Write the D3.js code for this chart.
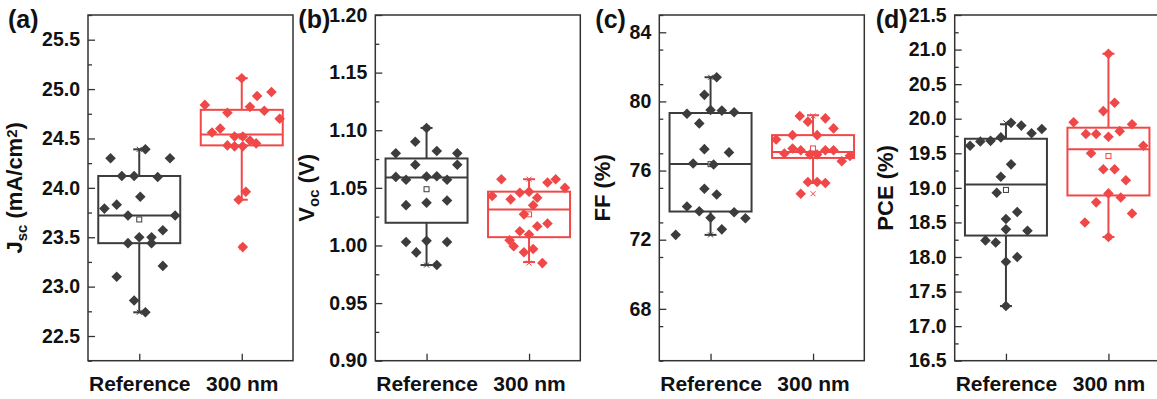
<!DOCTYPE html>
<html>
<head>
<meta charset="utf-8">
<script src="https://cdn.jsdelivr.net/npm/d3@7"></script>
<style>
  body { margin: 0; background: #fff; }
  svg text { font-family: "Liberation Sans", Arial, sans-serif; font-weight: bold; fill: #111; }
</style>
</head>
<body>
<svg id="fig" width="1157" height="399"></svg>
<script>
// categories and colours
var groups = ["Reference", "300 nm"];
var colors = ["#3c3c3c", "#f04848"];

// (a) Jsc (mA/cm2)
var jscRef   = [24.30, 24.39, 24.30, 24.12, 24.12, 24.11, 23.91, 23.79, 23.83, 23.72, 23.72, 23.50, 23.50, 23.44, 23.44, 23.57, 23.21, 23.10, 22.86, 22.74];
var jscRefDx = [-0.28, 0.06, 0.30, -0.17, -0.05, 0.18, 0.01, -0.34, -0.22, -0.11, 0.35, 0, 0.12, -0.11, 0.12, 0.23, 0.23, -0.22, -0.05, 0.06];
var jscNm    = [25.11, 24.97, 24.93, 24.84, 24.82, 24.76, 24.78, 24.70, 24.60, 24.56, 24.52, 24.52, 24.48, 24.45, 24.43, 24.42, 24.42, 23.96, 23.88, 23.40];
var jscNmDx  = [0, 0.29, 0.15, -0.36, 0.08, -0.14, 0.22, 0.37, -0.21, -0.29, -0.07, 0.01, 0.08, 0.14, -0.14, -0.07, 0.01, 0.04, -0.03, 0.01];
var jscBox   = [{q1: 23.44, med: 23.72, q3: 24.12, lo: 22.74, hi: 24.39, mean: 23.68},
                {q1: 24.43, med: 24.54, q3: 24.79, lo: 23.88, hi: 25.11, mean: 24.52}];

// (b) Voc (V)
var vocRef   = [1.102, 1.090, 1.080, 1.082, 1.080, 1.070, 1.070, 1.0595, 1.057, 1.0598, 1.060, 1.057, 1.035, 1.037, 1.039, 1.003, 1.004, 1.003, 0.994, 0.983];
var vocRefDx = [0, -0.11, -0.30, 0.10, 0.30, -0.11, 0.30, -0.30, -0.20, 0, 0.10, 0.20, -0.20, 0, 0.20, -0.20, 0, 0.20, -0.10, 0.10];
var vocNm    = [1.0575, 1.0546, 1.0575, 1.050, 1.0429, 1.040, 1.0458, 1.0467, 1.0414, 1.0348, 1.027, 1.0167, 1.019, 1.0124, 1.0095, 1.0045, 0.9993, 0.9941, 0.997, 0.9847];
var vocNmDx  = [-0.27, 0.18, 0.26, 0.35, -0.36, -0.18, -0.09, 0, 0.08, 0.04, -0.05, 0.08, 0.18, -0.09, 0, -0.19, -0.15, -0.05, 0.04, 0.13];
var vocBox   = [{q1: 1.0197, med: 1.0589, q3: 1.0755, lo: 0.983, hi: 1.102, mean: 1.0488},
                {q1: 1.0072, med: 1.0313, q3: 1.0467, lo: 0.9856, hi: 1.0575, mean: 1.027}];

// (c) FF (%)
var ffRef   = [81.4, 80.38, 79.29, 79.5, 79.47, 79.37, 78.73, 77.24, 77.05, 76.41, 76.35, 74.95, 74.62, 73.92, 73.65, 73.27, 73.59, 73.24, 72.6, 72.28];
var ffRefDx = [0.06, -0.06, -0.23, 0, 0.11, 0.23, -0.11, -0.06, 0.18, -0.17, 0.03, -0.06, 0.06, -0.23, -0.11, 0, 0.23, 0.34, 0.11, -0.34];
var ffNm    = [79.16, 78.83, 79.02, 78.44, 77.80, 78.05, 78.05, 76.99, 77.28, 77.18, 76.93, 76.93, 77.18, 77.18, 76.54, 76.85, 75.34, 75.34, 75.28, 74.66];
var ffNmDx  = [-0.13, -0.05, 0.12, 0.20, -0.36, -0.20, 0.04, -0.28, -0.20, -0.12, -0.03, 0.04, 0.12, 0.20, 0.28, 0.36, -0.05, 0.04, 0.12, -0.12];
var ffBox   = [{q1: 73.63, med: 76.38, q3: 79.33, lo: 72.28, hi: 81.4, mean: 76.37},
               {q1: 76.73, med: 77.08, q3: 78.05, lo: 75.28, hi: 79.2, mean: 77.28}];

// (d) PCE (%)
var pceRef   = [19.94, 19.90, 19.79, 19.85, 19.61, 19.67, 19.68, 19.73, 19.34, 19.16, 18.93, 18.55, 18.65, 18.40, 18.38, 18.24, 18.21, 17.93, 18.00, 17.29];
var pceRefDx = [0.05, 0.15, 0.25, 0.35, -0.35, -0.25, -0.15, -0.05, 0.05, -0.05, -0.09, 0, 0.11, 0, 0.21, -0.20, -0.10, 0, 0.11, 0];
var pceNm    = [20.94, 20.23, 20.11, 19.95, 19.92, 19.78, 19.78, 19.74, 19.82, 19.61, 19.50, 19.27, 19.27, 19.11, 18.92, 18.86, 18.79, 18.63, 18.50, 18.29];
var pceNmDx  = [0, 0.06, -0.05, -0.34, 0.23, -0.22, -0.12, 0, 0.11, 0.34, -0.17, -0.05, 0.06, 0.17, 0, 0.12, -0.12, 0.23, -0.23, 0];
var pceBox   = [{q1: 18.31, med: 19.05, q3: 19.71, lo: 17.29, hi: 19.92, mean: 18.97},
                {q1: 18.89, med: 19.56, q3: 19.87, lo: 18.29, hi: 20.94, mean: 19.46}];

// axis ticks
var jscTicks = [22.5, 23.0, 23.5, 24.0, 24.5, 25.0, 25.5];
var vocTicks = [0.90, 0.95, 1.00, 1.05, 1.10, 1.15, 1.20];
var ffTicks  = [68, 72, 76, 80, 84];
var pceTicks = [16.5, 17.0, 17.5, 18.0, 18.5, 19.0, 19.5, 20.0, 20.5, 21.0, 21.5];

var W = 205, H = 345.7, TOP = 15;
var svg = d3.select('#fig');

// square rotated 45 degrees, like Origin's diamond
var diamond = {
    draw: function(ctx, size) {
        var r = Math.sqrt(size / 2);
        ctx.moveTo(0, -r); ctx.lineTo(r, 0); ctx.lineTo(0, r); ctx.lineTo(-r, 0); ctx.closePath();
    }
};

var panels = [
    {tag: '(a)', left: 88,    tagDx: -80, titleDx: -66, domain: [22.25, 25.75], ticks: jscTicks, step: 0.25, fmt: '.1f',
     series: [[jscRef, jscRefDx], [jscNm, jscNmDx]], box: jscBox,
     title: [['J', 0], ['sc', 1], [' (mA/cm', 0], ['2', -1], [')', 0]]},
    {tag: '(b)', left: 375.3, tagDx: -77, titleDx: -61, domain: [0.90, 1.20], ticks: vocTicks, step: 0.025, fmt: '.2f',
     series: [[vocRef, vocRefDx], [vocNm, vocNmDx]], box: vocBox,
     title: [['V', 0], ['oc', 1], [' (V)', 0]]},
    {tag: '(c)', left: 659.3, tagDx: -64, titleDx: -49, domain: [65, 85], ticks: ffTicks, step: 2, fmt: 'd',
     series: [[ffRef, ffRefDx], [ffNm, ffNmDx]], box: ffBox,
     title: [['FF (%)', 0]]},
    {tag: '(d)', left: 954.7, tagDx: -79, titleDx: -62, domain: [16.5, 21.5], ticks: pceTicks, step: 0.25, fmt: '.1f',
     series: [[pceRef, pceRefDx], [pceNm, pceNmDx]], box: pceBox,
     title: [['PCE (%)', 0]]}
];

panels.forEach(function(p) {
    var g = svg.append('g').attr('transform', 'translate(' + p.left + ',' + TOP + ')');
    var x = d3.scaleLinear().domain([0.5, 2.5]).range([0, W]);
    var y = d3.scaleLinear().domain(p.domain).range([H, 0]);

    // minor ticks
    var minor = d3.range(p.domain[0], p.domain[1] + 1e-9, p.step)
        .filter(function(v) { return !p.ticks.some(function(t) { return Math.abs(t - v) < 1e-6; }); });
    g.append('g').attr('class', 'minor')
        .call(d3.axisLeft(y).tickValues(minor).tickSizeInner(-4).tickSizeOuter(0).tickFormat(''));

    g.append('g').attr('class', 'yaxis')
        .call(d3.axisLeft(y).tickValues(p.ticks).tickSizeInner(-7).tickSizeOuter(0).tickPadding(8)
            .tickFormat(d3.format(p.fmt)))
        .selectAll('text').style('font-size', '19.5px');

    g.append('g').attr('class', 'xaxis')
        .attr('transform', 'translate(0,' + H + ')')
        .call(d3.axisBottom(x).tickValues([1, 2]).tickSizeInner(-7).tickSizeOuter(0).tickPadding(15)
            .tickFormat(function(d) { return groups[d - 1]; }))
        .selectAll('text').style('font-size', '21px');

    g.selectAll('.domain').remove();
    g.selectAll('.tick line').attr('stroke', '#333').attr('stroke-width', 1.3);

    // frame
    g.append('rect').attr('width', W).attr('height', H)
        .attr('fill', 'none').attr('stroke', '#333').attr('stroke-width', 1.5);

    // boxes
    p.box.forEach(function(b, i) {
        var cx = x(i + 1), half = (x(1.4) - x(1)) , c = colors[i];
        var bg = g.append('g').attr('stroke', c).attr('fill', 'none').attr('stroke-width', 2);
        // whiskers
        bg.append('line').attr('x1', cx).attr('x2', cx).attr('y1', y(b.q3)).attr('y2', y(b.hi));
        bg.append('line').attr('x1', cx).attr('x2', cx).attr('y1', y(b.q1)).attr('y2', y(b.lo));
        [b.hi, b.lo].forEach(function(v) {
            bg.append('line').attr('x1', cx - 6).attr('x2', cx + 6).attr('y1', y(v)).attr('y2', y(v));
        });
        bg.append('rect').attr('x', cx - half).attr('width', 2 * half)
            .attr('y', y(b.q3)).attr('height', y(b.q1) - y(b.q3));
        bg.append('line').attr('x1', cx - half).attr('x2', cx + half).attr('y1', y(b.med)).attr('y2', y(b.med));
        // mean marker
        bg.append('rect').attr('x', cx - 2.5).attr('y', y(b.mean) - 2.5).attr('width', 5).attr('height', 5)
            .attr('fill', '#fff').attr('stroke-width', 1);
        // min / max crosses
        var s = p.series[i][0];
        [d3.min(s), d3.max(s)].forEach(function(v) {
            g.append('path').attr('d', 'M-2.5,-2.5L2.5,2.5M-2.5,2.5L2.5,-2.5')
                .attr('transform', 'translate(' + cx + ',' + y(v) + ')')
                .attr('stroke', c).attr('stroke-width', 1).attr('fill', 'none');
        });
    });

    // data points
    p.series.forEach(function(s, i) {
        g.append('g').selectAll('path').data(s[0]).enter().append('path')
            .attr('d', d3.symbol().type(diamond).size(56))
            .attr('transform', function(v, j) { return 'translate(' + x(i + 1 + s[1][j]) + ',' + y(v) + ')'; })
            .attr('fill', colors[i]);
    });

    // panel tag
    g.append('text').attr('x', p.tagDx).attr('y', 13).style('font-size', '25px').text(p.tag);

    // y title
    var t = g.append('text')
        .attr('transform', 'translate(' + p.titleDx + ',' + (H / 2) + ') rotate(-90)')
        .attr('text-anchor', 'middle').attr('dy', '0.35em').style('font-size', '22px');
    var shift = 0;
    p.title.forEach(function(part) {
        var want = part[1] * 5;
        var ts = t.append('tspan').text(part[0]).attr('dy', want - shift);
        if (part[1] !== 0) ts.style('font-size', '15px');
        shift = want;
    });
});
</script>
</body>
</html>
